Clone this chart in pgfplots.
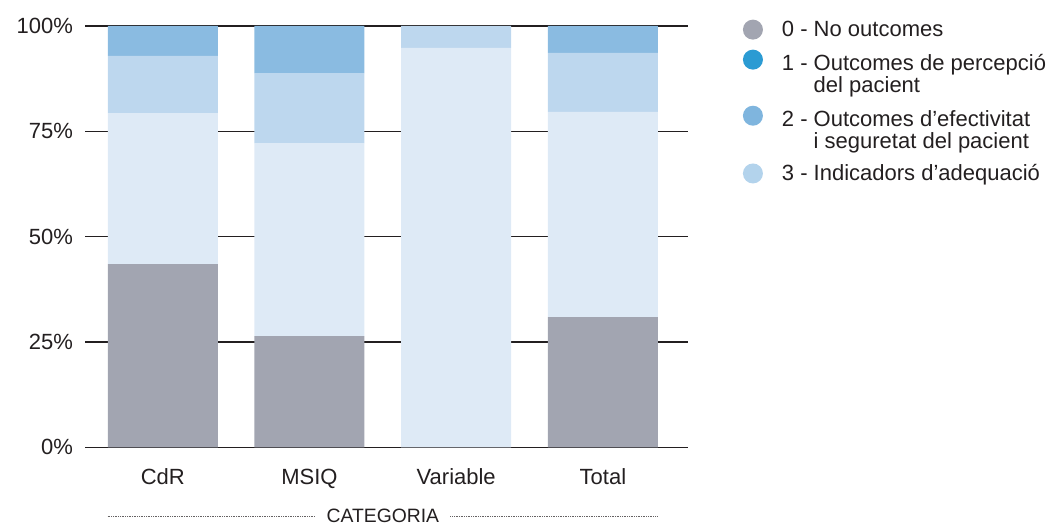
\documentclass[border=0pt]{standalone}
\usepackage{pgfplots}
\pgfplotsset{compat=1.18}
\usepackage{fontspec}
\setmainfont{Liberation Sans}
\definecolor{cgray}{HTML}{A2A5B1}
\definecolor{cvpale}{HTML}{DEEAF6}
\definecolor{clight}{HTML}{BDD7EE}
\definecolor{cmed}{HTML}{8ABBE1}
\definecolor{lone}{HTML}{2B9BD3}
\definecolor{ltwo}{HTML}{7FB5DE}
\definecolor{lthree}{HTML}{B3D3EC}
\definecolor{txt}{HTML}{231F20}
\pgfplotstableread{
x g vp lt md
0 43.5 35.8 13.6 7.1
1 26.4 45.8 16.6 11.2
2 0 94.8 5.2 0
3 30.9 48.7 14.0 6.4
}\datatable
\begin{document}
\begin{tikzpicture}
\path[use as bounding box] (-63.75pt,-58.3pt) rectangle (730.5pt,335.5pt);
\begin{axis}[
  at={(0,0)}, anchor=south west,
  scale only axis, width=452.25pt, height=316pt,
  ybar stacked, bar width=82.5pt,
  xmin=-0.53, xmax=3.58, ymin=0, ymax=100,
  xtick={0,1,2,3}, xticklabels={CdR,MSIQ,Variable,Total},
  ytick={0,25,50,75,100}, yticklabels={0\%,25\%,50\%,75\%,100\%},
  axis line style={draw=none}, major tick length=0pt,
  ymajorgrids, grid style={line width=1.1pt, color=txt},
  ticklabel style={font=\fontsize{16.5}{19}\selectfont, text=txt},
  yticklabel style={xshift=-5.5pt},
  xticklabel style={yshift=-12.5pt},
  clip=false,
  legend style={at={(1,1)}, anchor=north west, xshift=41pt, yshift=6pt,
    draw=none, fill=none, inner sep=0pt, row sep=6.5pt,
    font=\fontsize{16.5}{16.5}\selectfont, text=txt,
    cells={align=left}},
  legend cell align=left,
]
\addplot[fill=cgray, draw=none, forget plot] table[x=x,y=g]{\datatable};
\addplot[fill=cvpale, draw=none, forget plot] table[x=x,y=vp]{\datatable};
\addplot[fill=clight, draw=none, forget plot] table[x=x,y=lt]{\datatable};
\addplot[fill=cmed, draw=none, forget plot] table[x=x,y=md]{\datatable};
\addlegendimage{draw=none, legend image code/.code={\fill[cgray] (0pt,0pt) circle (7.5pt); \path[draw=none] (7.5pt,0) -- (19.75pt,0);}}
\addlegendentry{0 - No outcomes}
\addlegendimage{draw=none, legend image code/.code={\fill[lone] (0pt,11pt) circle (7.5pt); \path[draw=none] (-7.5pt,0) -- (19.75pt,0);}}
\addlegendentry{1 - Outcomes de percepció\\\phantom{1 - }del pacient}
\addlegendimage{draw=none, legend image code/.code={\fill[ltwo] (0pt,11pt) circle (7.5pt); \path[draw=none] (-7.5pt,0) -- (19.75pt,0);}}
\addlegendentry{2 - Outcomes d’efectivitat\\\phantom{2 - }i seguretat del pacient}
\addlegendimage{draw=none, legend image code/.code={\fill[lthree] (0pt,0pt) circle (7.5pt); \path[draw=none] (7.5pt,0) -- (19.75pt,0);}}
\addlegendentry{3 - Indicadors d’adequació}
\draw[line width=0.6pt, color=txt!70, dash pattern=on 0.6pt off 0.7pt] (axis cs:-0.375,-16.3) -- (axis cs:1.04,-16.3);
\draw[line width=0.6pt, color=txt!70, dash pattern=on 0.6pt off 0.7pt] (axis cs:1.96,-16.3) -- (axis cs:3.375,-16.3);
\node[text=txt, font=\fontsize{14.5}{16}\selectfont, anchor=center] at (axis cs:1.5,-16.3) {CATEGORIA};
\end{axis}
\end{tikzpicture}
\end{document}
